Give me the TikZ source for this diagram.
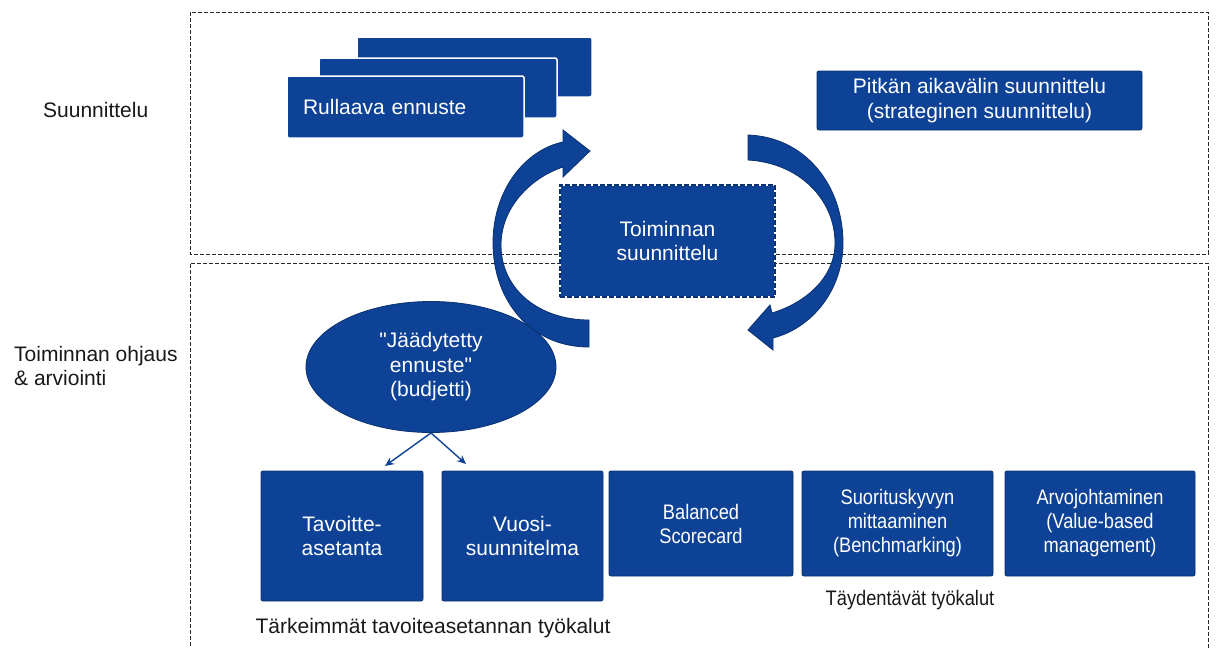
\documentclass[tikz,border=0pt]{standalone}
\usepackage{fontspec}
\setmainfont{Liberation Sans}[Ligatures=TeXOff]
\newfontfamily\narrowfont{Liberation Sans}[Ligatures=TeXOff, FakeStretch=0.87]
\usetikzlibrary{arrows.meta,shapes.geometric}
\definecolor{bblue}{RGB}{14,66,150}
\definecolor{bedge}{RGB}{10,48,112}
\definecolor{frame}{RGB}{40,40,40}
\definecolor{lbl}{RGB}{25,25,25}
\begin{document}
\begin{tikzpicture}[x=1pt,y=-1pt,
 box/.style={rectangle, rounded corners=2pt, fill=bblue, draw=bedge, line width=0.8pt, text=white, align=center, inner sep=0pt, font=\fontsize{21}{24.5}\selectfont},
 sbox/.style={box, font=\narrowfont\fontsize{21}{24}\selectfont},
 stackbox/.style={box, draw=white, line width=1.5pt},
 frm/.style={draw=frame, line width=1pt, dash pattern=on 4pt off 2pt},
 lab/.style={text=lbl, inner sep=0pt, font=\fontsize{21}{24}\selectfont},
 carrow/.style={fill=bblue, draw=bedge, line width=0.8pt},
 smallarr/.style={draw=bblue, line width=1.4pt, -{Stealth[length=9pt,width=8pt]}}
]
\useasboundingbox (0,0) rectangle (1216,648);
\fill[white] (0,0) rectangle (1216,648);

% frames
\draw[frm] (190,12) rectangle (1208,254);
\draw[frm] (190,652) -- (190,263) -- (1208,263) -- (1208,652);

% stacked rolling forecast
\node[stackbox, minimum width=235pt, minimum height=60pt] (r3) at (474.5,67) {};
\node[stackbox, minimum width=238pt, minimum height=60pt] (r2) at (438,88) {};
\node[stackbox, minimum width=237pt, minimum height=62pt, text width=205pt, align=left, inner xsep=16pt] (r1) at (405.5,107) {Rullaava ennuste};

% long-term planning
\node[box, minimum width=325pt, minimum height=59pt] (pl) at (979.5,100.5) {Pitkän aikavälin suunnittelu\\(strateginen suunnittelu)};

% budget ellipse
\node[box, ellipse, minimum width=250pt, minimum height=131pt] (jb) at (431,367) {"Jäädytetty\\ennuste"\\(budjetti)};

% circular arrows
\filldraw[carrow] (589,347) .. controls (530,347) and (493,300) .. (493,243)
  .. controls (493,190) and (525,150) .. (563,142) -- (563,130) -- (590,151) -- (563,177) -- (563,167)
  .. controls (530,178) and (501,208) .. (501,245)
  .. controls (501,290) and (540,320) .. (589,320) -- cycle;
\filldraw[carrow] (748,135) .. controls (805,137) and (843,185) .. (843,243)
  .. controls (843,290) and (812,328) .. (773,338) -- (773,350) -- (748,330) -- (770,305) -- (772,313)
  .. controls (805,303) and (835,278) .. (835,243)
  .. controls (835,200) and (800,163) .. (748,160) -- cycle;

% operational planning
\node[box, sharp corners, minimum width=215pt, minimum height=112pt, draw=white, line width=1.5pt,
  postaction={draw=bedge, line width=1.5pt, dash pattern=on 5pt off 2pt}] (ts) at (667.5,241) {Toiminnan\\suunnittelu};

% bottom tools
\node[box, minimum width=162pt, minimum height=130pt] (tav) at (342,536) {Tavoitte-\\asetanta};
\node[box, minimum width=161pt, minimum height=130pt] (vuo) at (522.5,536) {Vuosi-\\suunnitelma};
\node[sbox, minimum width=184pt, minimum height=105pt] (bal) at (701,523.5) {Balanced\\Scorecard};
\node[sbox, minimum width=191pt, minimum height=105pt] (suo) at (897.5,523.5) {Suorituskyvyn\\mittaaminen\\(Benchmarking)};
\node[sbox, minimum width=190pt, minimum height=105pt] (arv) at (1100,523.5) {Arvojohtaminen\\(Value-based\\management)};

% small arrows
\coordinate (a1) at (385,466);
\coordinate (a2) at (466,464);
\draw[smallarr] (jb.south) -- (a1);
\draw[smallarr] (jb.south) -- (a2);

% labels
\node[lab, anchor=west] (sl) at (43,110) {Suunnittelu};
\node[lab, anchor=west, align=left] (tl) at (14,366) {Toiminnan ohjaus\\\& arviointi};
\node[lab, font=\narrowfont\fontsize{21}{24}\selectfont] (tty) at (910,600) {Täydentävät työkalut};
\node[lab] (ttk) at (433,628) {Tärkeimmät tavoiteasetannan työkalut};
\end{tikzpicture}
\end{document}
